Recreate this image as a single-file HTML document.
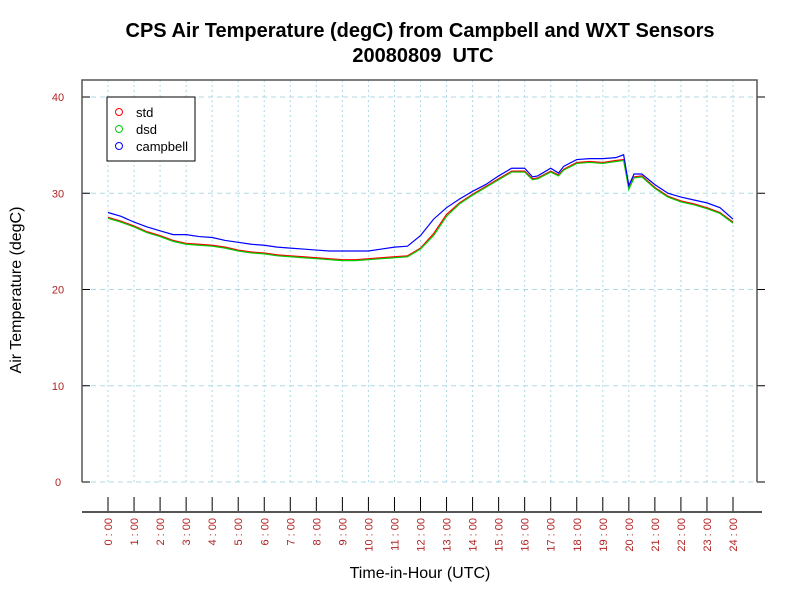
<!DOCTYPE html>
<html><head><meta charset="utf-8"><style>
body{margin:0;background:#fff;font-family:"Liberation Sans",sans-serif}
</style></head><body>
<svg id="c" width="800" height="600" xmlns="http://www.w3.org/2000/svg">
<rect width="800" height="600" fill="#fff"/>
<text x="420" y="37" text-anchor="middle" font-size="20" font-weight="bold">CPS Air Temperature (degC) from Campbell and WXT Sensors</text>
<text x="423" y="62" text-anchor="middle" font-size="20" font-weight="bold" style="white-space:pre">20080809  UTC</text>
<g id="grid"></g>
<g id="axes"></g>
<g id="series"></g>
<text x="420" y="578" text-anchor="middle" font-size="16">Time-in-Hour (UTC)</text>
<text transform="translate(21,290) rotate(-90)" text-anchor="middle" font-size="16">Air Temperature (degC)</text>
<g>
<rect x="107" y="97" width="88" height="64" fill="#fff" stroke="#000"/>
<circle cx="119" cy="112" r="3.5" fill="none" stroke="#f00"/><text x="136" y="117" font-size="13">std</text>
<circle cx="119" cy="129" r="3.5" fill="none" stroke="#0c0"/><text x="136" y="134" font-size="13">dsd</text>
<circle cx="119" cy="146" r="3.5" fill="none" stroke="#00f"/><text x="136" y="151" font-size="13">campbell</text>
</g>
</svg>
<script>
const hours=[0,0.5,1,1.5,2,2.5,3,3.5,4,4.5,5,5.5,6,6.5,7,7.5,8,8.5,9,9.5,10,10.5,11,11.5,12,12.5,13,13.5,14,14.5,15,15.5,16,16.3,16.5,17,17.3,17.5,18,18.5,19,19.5,19.8,20,20.2,20.5,21,21.5,22,22.5,23,23.5,24];
const stdVals=[27.5,27.1,26.6,26.0,25.6,25.1,24.8,24.7,24.6,24.4,24.1,23.9,23.8,23.6,23.5,23.4,23.3,23.2,23.1,23.1,23.2,23.3,23.4,23.5,24.3,25.8,27.8,29.0,29.9,30.7,31.5,32.3,32.3,31.5,31.6,32.3,31.9,32.5,33.2,33.3,33.2,33.4,33.5,30.5,31.7,31.8,30.6,29.7,29.2,28.9,28.5,28.0,27.0];
const dsdVals=[27.4,27.0,26.5,25.9,25.5,25.0,24.7,24.6,24.5,24.3,24.0,23.8,23.7,23.5,23.4,23.3,23.2,23.1,23.0,23.0,23.1,23.2,23.3,23.4,24.2,25.6,27.6,28.9,29.8,30.6,31.4,32.2,32.2,31.4,31.5,32.2,31.8,32.4,33.1,33.2,33.1,33.3,33.4,30.4,31.6,31.7,30.5,29.6,29.1,28.8,28.4,27.9,26.9];
const campVals=[28.0,27.6,27.0,26.5,26.1,25.7,25.7,25.5,25.4,25.1,24.9,24.7,24.6,24.4,24.3,24.2,24.1,24.0,24.0,24.0,24.0,24.2,24.4,24.5,25.6,27.3,28.5,29.4,30.2,30.9,31.8,32.6,32.6,31.7,31.8,32.6,32.1,32.8,33.5,33.6,33.6,33.7,34.0,30.8,32.0,32.0,30.9,30.0,29.6,29.3,29.0,28.5,27.3];
const yTicks=[0,10,20,30,40];
const xLabels=[];for(let h=0;h<=24;h++)xLabels.push(h+" : 00");
const NS="http://www.w3.org/2000/svg";
const X=h=>108+h*(733-108)/24, Y=v=>482-v*(482-97)/40;
function mk(t,a,p){const e=document.createElementNS(NS,t);for(const k in a)e.setAttribute(k,a[k]);p.appendChild(e);return e;}
const g=document.getElementById('grid'),ax=document.getElementById('axes'),s=document.getElementById('series');
xLabels.forEach((l,i)=>{
 const gl=mk('line',{x1:X(i),x2:X(i),y1:80,y2:482,stroke:'#add8e6','stroke-dasharray':'2,3'},g);
 
 const tk=mk('line',{x1:X(i),x2:X(i),y1:497,y2:512,stroke:'#000'},ax);
 
 const t=mk('text',{transform:`translate(${X(i)+4},518) rotate(-90)`,'text-anchor':'end','font-size':11,fill:'#b22222'},ax);
 t.textContent=l;
 
});
yTicks.forEach(v=>{
 const gl=mk('line',{x1:82,x2:757,y1:Y(v),y2:Y(v),stroke:'#add8e6','stroke-dasharray':'5,4'},g);
 
 mk('line',{x1:82,x2:90,y1:Y(v),y2:Y(v),stroke:'#000'},ax);
 mk('line',{x1:757,x2:765,y1:Y(v),y2:Y(v),stroke:'#000'},ax);
 const t=mk('text',{x:58,y:Y(v)+4,'text-anchor':'middle','font-size':11,fill:'#b22222'},ax);
 t.textContent=v;
 
});
const fr=mk('path',{d:'M82,482 V80 H757 V482',fill:'none',stroke:'#555','stroke-width':1.5},ax);

const xa=mk('line',{x1:82,x2:762,y1:512,y2:512,stroke:'#555','stroke-width':2},ax);

[[stdVals,'#f00','std-line'],[dsdVals,'#0c0','dsd-line'],[campVals,'#00f','campbell-line']].forEach(([vals,c,n])=>{
 const p=mk('polyline',{points:vals.map((v,i)=>X(hours[i])+','+Y(v)).join(' '),fill:'none',stroke:c,'stroke-width':1.2},s);
 
});
</script>
</body></html>
